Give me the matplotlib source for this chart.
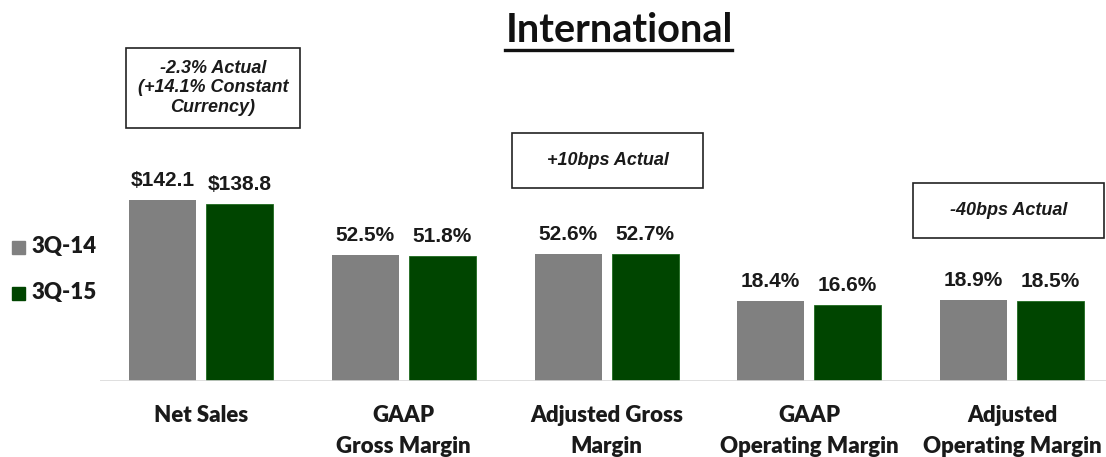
import matplotlib
matplotlib.use("Agg")
import matplotlib.pyplot as plt
from matplotlib.patches import Rectangle
from matplotlib.lines import Line2D

# Data
categories = ["Net Sales", "GAAP\nGross Margin", "Adjusted Gross\nMargin",
              "GAAP\nOperating Margin", "Adjusted\nOperating Margin"]
series_names = ["3Q-14", "3Q-15"]
labels_14 = ["$142.1", "52.5%", "52.6%", "18.4%", "18.9%"]
labels_15 = ["$138.8", "51.8%", "52.7%", "16.6%", "18.5%"]
# bar heights as drawn on the slide (not to a common scale)
heights_14 = [181, 126, 127, 80, 81]
heights_15 = [177, 125, 127, 76, 80]
notes = ["-2.3% Actual\n(+14.1% Constant\nCurrency)", "+10bps Actual", "-40bps Actual"]

GRAY = "#808080"
GREEN = "#004500"
W, H = 1106, 457

cal = ["Lato", "DejaVu Sans"]
ari = ["Liberation Sans", "DejaVu Sans"]


def fx(x):
    return x / W


def fy(y):
    return 1 - y / H


fig = plt.figure(figsize=(W / 100, H / 100), dpi=100)

# axes: x from 100px to right edge, baseline at y=381px, top at y=0
ax = fig.add_axes([fx(100), fy(381), fx(1006), 381 / H])
ax.set_ylim(0, 381)
spacing = 202.75
ax.set_xlim(-101 / spacing, -101 / spacing + 1006 / spacing)
ax.axis("off")
ax.axhline(0, color="#d9d9d9", lw=1.2)

bw = 67 / spacing
off = 38.5 / spacing
xs = list(range(len(categories)))
b1 = ax.bar([x - off for x in xs], heights_14, width=bw, color=GRAY)
b2 = ax.bar([x + off for x in xs], heights_15, width=bw, color=GREEN,
            edgecolor="#1f6b1f", linewidth=0.6)

for bars, labs in ((b1, labels_14), (b2, labels_15)):
    for b, lab in zip(bars, labs):
        ax.text(b.get_x() + b.get_width() / 2, b.get_height() + 10, lab,
                ha="center", va="bottom", fontsize=15, fontweight="bold",
                family=ari, color="#1a1a1a")

for x, cat in zip(xs, categories):
    ax.text(x, -24, cat, ha="center", va="top", fontsize=16,
            fontweight="heavy", family=cal, linespacing=1.6, color="#1a1a1a")

# title with underline
fig.text(fx(619), fy(30), "International", ha="center", va="center",
         fontsize=28.5, fontweight="bold", family=cal, color="#111111")
fig.add_artist(Line2D([fx(505), fx(732)], [fy(50), fy(50)], color="#111111",
                      lw=2.4, transform=fig.transFigure))

# legend
for name, col, yc in ((series_names[0], GRAY, 247), (series_names[1], GREEN, 293)):
    fig.add_artist(Rectangle((fx(12), fy(yc + 7)), fx(13), 13 / H, color=col,
                             transform=fig.transFigure))
    fig.text(fx(32), fy(yc), name, ha="left", va="center", fontsize=16,
             fontweight="heavy", family=cal, color="#1a1a1a")

# annotation boxes
boxes = [(126, 48, 300, 128), (512, 133, 703, 188), (913, 183, 1104, 238)]
for (x0, y0, x1, y1), note in zip(boxes, notes):
    fig.add_artist(Rectangle((fx(x0), fy(y1)), fx(x1 - x0), (y1 - y0) / H,
                             fill=False, edgecolor="#222222", lw=1.2,
                             transform=fig.transFigure))
    fig.text(fx((x0 + x1) / 2), fy((y0 + y1) / 2), note, ha="center",
             va="center", fontsize=13, fontweight="bold", style="italic",
             family=ari, color="#1a1a1a", linespacing=1.2)

fig.savefig("out.png", dpi=100)
